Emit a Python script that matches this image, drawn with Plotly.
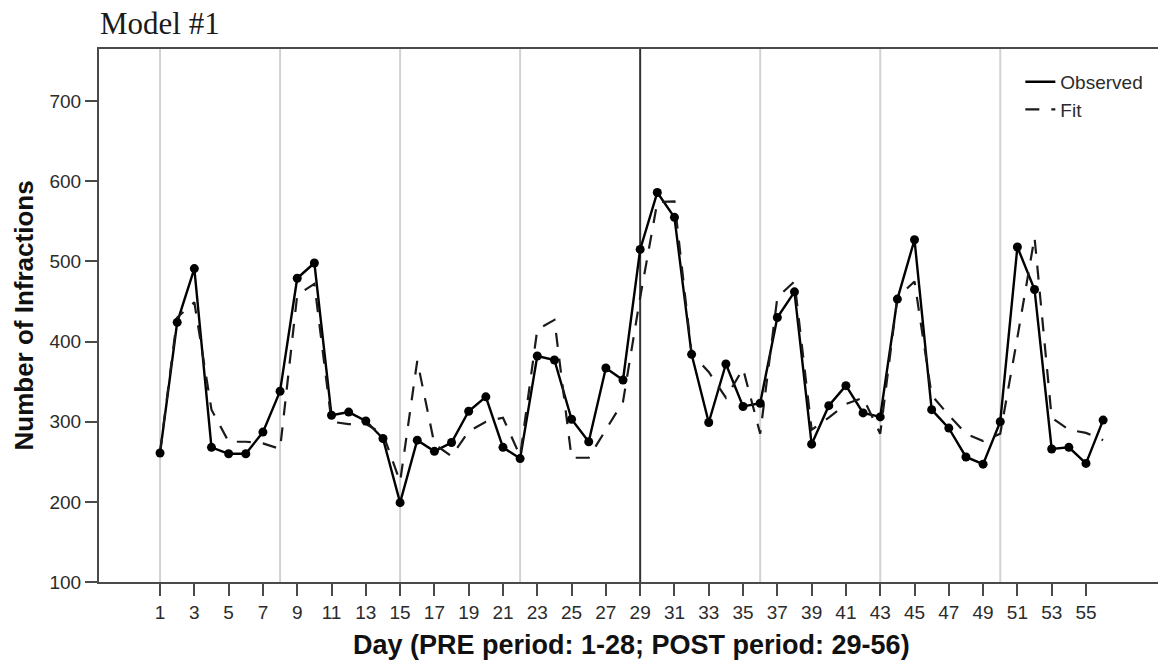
import plotly.graph_objects as go

days = list(range(1, 57))
observed = [261, 424, 491, 268, 260, 260, 287, 338, 479, 498, 308, 312, 301, 279,
            199, 277, 263, 274, 313, 331, 268, 254, 382, 377, 303, 275, 367, 352,
            515, 586, 555, 384, 299, 372, 319, 323, 430, 462, 272, 320, 345, 311,
            306, 453, 527, 315, 292, 256, 247, 300, 518, 465, 266, 268, 248, 302]
fit = [262, 430, 449, 315, 275, 275, 273, 266, 458, 472, 300, 297, 297, 285,
       225, 376, 272, 257, 288, 300, 305, 257, 415, 427, 255, 255, 290, 325,
       455, 574, 575, 385, 362, 330, 366, 285, 455, 475, 290, 305, 322, 330,
       285, 455, 475, 333, 308, 285, 276, 285, 405, 530, 305, 290, 286, 277]

x_ticks = list(range(1, 57, 2))
y_ticks = [100, 200, 300, 400, 500, 600, 700]
week_lines = [1, 8, 15, 22, 36, 43, 50]
intervention_day = 29

AX = "#4a4a4a"
TXT = "#2b2b2b"

fig = go.Figure()

fig.add_trace(go.Scatter(
    x=days, y=observed, name="Observed", mode="lines",
    line=dict(color="#000000", width=2.4), legendrank=1,
))
fig.add_trace(go.Scatter(
    x=days, y=fit, name="Fit", mode="lines",
    line=dict(color="#1a1a1a", width=2.2, dash="14px,12px"), legendrank=2,
))
fig.add_trace(go.Scatter(
    x=days, y=observed, name="Observed points", mode="markers",
    marker=dict(color="#000000", size=9), showlegend=False,
))

for d in week_lines:
    fig.add_shape(type="line", xref="x", yref="paper", x0=d, x1=d, y0=0, y1=1,
                  line=dict(color="#d2d2d2", width=2), layer="below")
fig.add_shape(type="line", xref="x", yref="paper", x0=intervention_day, x1=intervention_day,
              y0=0, y1=1, line=dict(color="#333333", width=2), layer="below")

fig.update_layout(
    width=1158, height=663,
    margin=dict(l=99, r=0, t=49, b=81),
    paper_bgcolor="white", plot_bgcolor="white",
    showlegend=True,
    legend=dict(x=0.870, y=0.974, xanchor="left", yanchor="top",
                font=dict(family="Liberation Sans", size=19, color=TXT),
                bgcolor="rgba(0,0,0,0)",
                itemwidth=30, tracegroupgap=0),
    xaxis=dict(range=[-2.56, 59.2], tickmode="array", tickvals=x_ticks,
               ticks="outside", ticklen=12, tickwidth=2, tickcolor=AX,
               showline=True, linecolor=AX, linewidth=2, mirror=True,
               showgrid=False, zeroline=False,
               tickfont=dict(family="Liberation Sans", size=19, color=TXT)),
    yaxis=dict(range=[100, 765], tickmode="array", tickvals=y_ticks,
               ticks="outside", ticklen=12, tickwidth=2, tickcolor=AX,
               showline=True, linecolor=AX, linewidth=2, mirror=False,
               showgrid=False, zeroline=False,
               tickfont=dict(family="Liberation Sans", size=19, color=TXT)),
    annotations=[
        dict(text="Model #1", xref="paper", yref="paper", x=0, y=1,
             xanchor="left", yanchor="middle", yshift=26, xshift=-1, showarrow=False,
             font=dict(family="Liberation Serif", size=31, color="#1a1a1a")),
        dict(text="<b>Day (PRE period: 1-28; POST period: 29-56)</b>",
             xref="paper", yref="paper", x=0.5, y=0, xanchor="center",
             yanchor="middle", yshift=-63, xshift=3, showarrow=False,
             font=dict(family="Liberation Sans", size=27, color="#111111")),
        dict(text="<b>Number of Infractions</b>", xref="paper", yref="paper",
             x=0, y=0.5, xanchor="center", yanchor="middle", xshift=-76,
             textangle=-90, showarrow=False,
             font=dict(family="Liberation Sans", size=26, color="#111111")),
    ],
)

fig.write_html("out.html")
